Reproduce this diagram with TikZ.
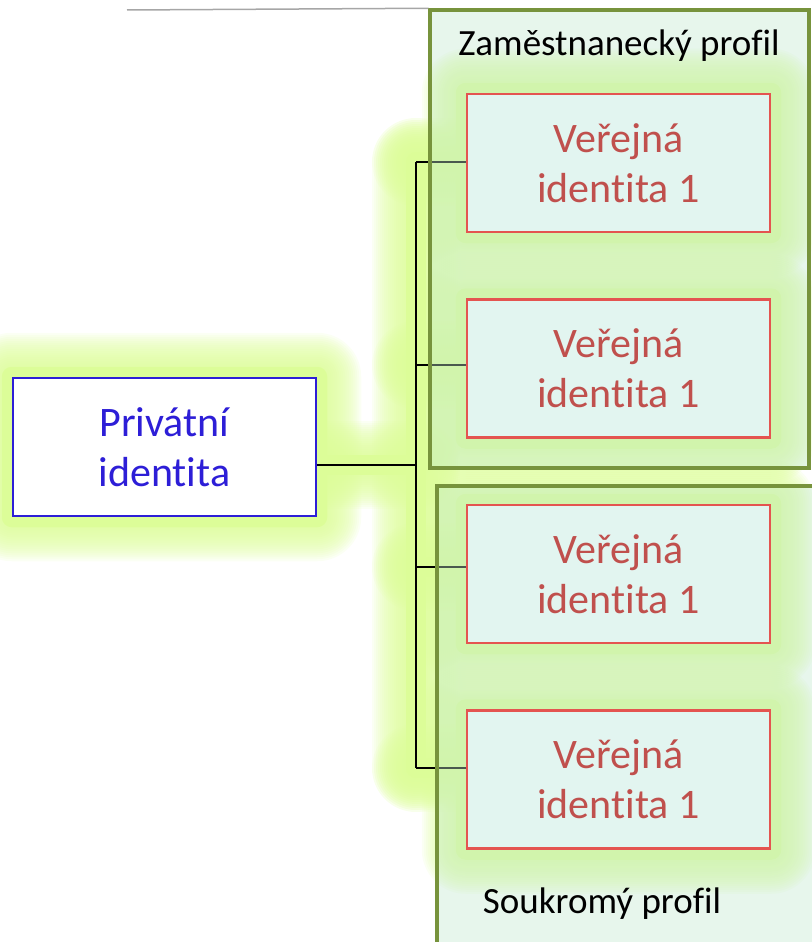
\documentclass[tikz,border=0pt]{standalone}
\usepackage{fontspec}
\setmainfont[Ligatures=NoCommon]{Carlito}

\definecolor{glowc}{RGB}{220,253,152}
\definecolor{framefill}{RGB}{192,231,205}
\definecolor{frameline}{RGB}{119,147,60}
\definecolor{idline}{RGB}{228,84,80}
\definecolor{idtext}{RGB}{192,80,77}
\definecolor{idfill}{RGB}{226,245,240}
\definecolor{privc}{RGB}{45,30,215}
\definecolor{rulec}{RGB}{166,166,166}

\pgfdeclarelayer{glow}
\pgfdeclarelayer{links}
\pgfdeclarelayer{frames}
\pgfsetlayers{glow,links,frames,main}

\tikzset{
  idbox/.style={rectangle, draw=idline, line width=2.5pt, fill=idfill, text=idtext,
    minimum width=303pt, minimum height=138pt, inner sep=0pt, align=center,
    font=\fontsize{42}{50}\selectfont},
  privbox/.style={idbox, draw=privc, fill=white, text=privc},
  framebox/.style={rectangle, draw=frameline, line width=3.5pt, fill=framefill,
    fill opacity=0.39, inner sep=0pt},
  framelabel/.style={anchor=base, inner sep=0pt, text=black,
    font=\fontsize{37}{44}\selectfont},
  link/.style={draw=black, line width=2.6pt},
}

% soft halo around a rectangular node
\newcommand\glowaround[1]{%
  \foreach \r in {44,42,...,12}{%
    \fill[glowc, opacity=0.1, rounded corners=\r pt]
      ([xshift=-\r pt, yshift=\r pt]#1.north west) rectangle
      ([xshift=\r pt, yshift=-\r pt]#1.south east);}
  \fill[glowc, rounded corners=10pt]
      ([xshift=-10pt, yshift=10pt]#1.north west) rectangle
      ([xshift=10pt, yshift=-10pt]#1.south east);}

% soft halo along a straight connector
\newcommand\glowline[2]{%
  \foreach \r [evaluate=\r as \w using 2*\r] in {44,42,...,12}{%
    \draw[glowc, opacity=0.1, line width=\w pt, line cap=round] (#1) -- (#2);}
  \draw[glowc, line width=20pt, line cap=round] (#1) -- (#2);}

\begin{document}
\begin{tikzpicture}[x=1pt, y=-1pt]
\useasboundingbox (0,0) rectangle (811,942);

% identity boxes
\node[privbox] (priv) at (164.5,447) {Privátní\\identita};
\node[idbox] (r1) at (618.5,163)   {Veřejná\\identita 1};
\node[idbox] (r2) at (618.5,368.5) {Veřejná\\identita 1};
\node[idbox] (r3) at (618.5,574)   {Veřejná\\identita 1};
\node[idbox] (r4) at (618.5,779.5) {Veřejná\\identita 1};

% junction points on the vertical trunk
\coordinate (hub) at (416,465);
\coordinate (b1) at (416,162);
\coordinate (b2) at (416,365);
\coordinate (b3) at (416,567);
\coordinate (b4) at (416,768);

% profile frames
\begin{pgfonlayer}{frames}
  \node[framebox, minimum width=379pt, minimum height=458pt] (work) at (619.5,239) {};
  \node[framebox, minimum width=403pt, minimum height=474pt] (home) at (638.5,723) {};
\end{pgfonlayer}
\node[framelabel] (worklbl) at (619,56) {Zaměstnanecký profil};
\node[framelabel] (homelbl) at (602,913) {Soukromý profil};

% thin rule running into the upper frame
\coordinate (ruleend) at (127,10);
\draw[rulec, line width=1.5pt] (ruleend) -- (work.north west);

% connectors
\begin{pgfonlayer}{links}
  \draw[link] (priv.east |- hub) -- (hub);
  \draw[link] (b1) -- (b4);
  \draw[link] (b1) -- (r1.west |- b1);
  \draw[link] (b2) -- (r2.west |- b2);
  \draw[link] (b3) -- (r3.west |- b3);
  \draw[link] (b4) -- (r4.west |- b4);
\end{pgfonlayer}

% halos
\begin{pgfonlayer}{glow}
  \glowaround{priv}
  \glowaround{r1}
  \glowaround{r2}
  \glowaround{r3}
  \glowaround{r4}
  \glowline{priv.east |- hub}{hub}
  \glowline{b1}{b4}
  \glowline{b1}{r1.west |- b1}
  \glowline{b2}{r2.west |- b2}
  \glowline{b3}{r3.west |- b3}
  \glowline{b4}{r4.west |- b4}
\end{pgfonlayer}
\end{tikzpicture}
\end{document}
